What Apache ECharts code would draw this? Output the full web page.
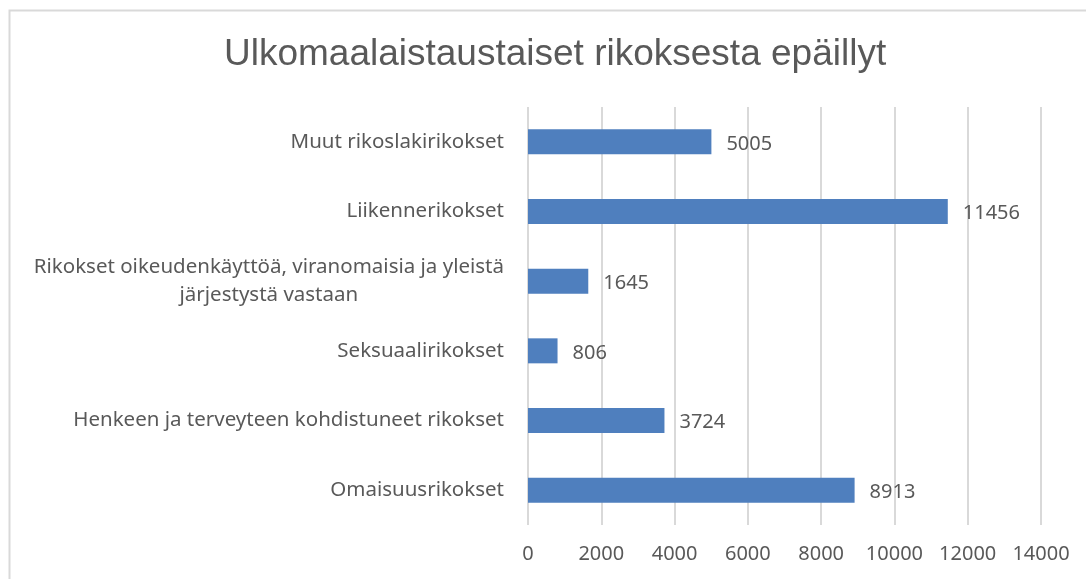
<!DOCTYPE html>
<html>
<head>
  <meta charset="UTF-8">
  <title>Ulkomaalaistaustaiset rikoksesta epäillyt</title>
  <script src="https://cdn.jsdelivr.net/npm/echarts@6/dist/echarts.min.js"></script>
  <style>
    html, body { margin: 0; padding: 0; background: #fff; }
    #chart { width: 1086px; height: 579px; }
  </style>
</head>
<body>
<div id="chart"></div>
<script>
  // data, bottom category first (ECharts category axis runs upwards)
  const categories = [
    'Omaisuusrikokset',
    'Henkeen ja terveyteen kohdistuneet rikokset',
    'Seksuaalirikokset',
    'Rikokset oikeudenkäyttöä, viranomaisia ja yleistä\njärjestystä vastaan',
    'Liikennerikokset',
    'Muut rikoslakirikokset'
  ];
  const values = [8913, 3724, 806, 1645, 11456, 5005];
  const xTicks = [0, 2000, 4000, 6000, 8000, 10000, 12000, 14000];

  const textColor = '#595959';
  const font = 'Noto Sans';

  const chart = echarts.init(document.getElementById('chart'), null, {renderer: 'canvas'});

  chart.setOption({
    animation: false,
    title: {
      text: 'Ulkomaalaistaustaiset rikoksesta epäillyt',
      left: 219,
      top: 31,
      textStyle: {
        color: textColor,
        fontSize: 37,
        fontWeight: 'normal',
        fontFamily: 'Liberation Sans'
      }
    },
    graphic: [{
      type: 'rect',
      shape: {x: 9.5, y: 10.5, width: 1100, height: 600},
      style: {fill: 'none', stroke: '#d9d9d9', lineWidth: 2},
      silent: true
    }],
    grid: {left: 528, right: 45, top: 107, bottom: 54},
    xAxis: {
      type: 'value',
      min: xTicks[0],
      max: xTicks[xTicks.length - 1],
      interval: 2000,
      axisLine: {show: false},
      axisTick: {show: false},
      axisLabel: {
        color: textColor, fontSize: 20, fontFamily: font, margin: 19,
        formatter: v => String(v)
      },
      splitLine: {lineStyle: {color: '#d9d9d9', width: 2}}
    },
    yAxis: {
      type: 'category',
      data: categories,
      axisLine: {show: false},
      axisTick: {show: false},
      axisLabel: {
        margin: 24,
        formatter: function (v) {
          return v.split('\n').map(s => '{c|' + s + '}').join('\n');
        },
        rich: {
          c: {
            color: textColor, fontSize: 20.5, fontFamily: font,
            align: 'center', lineHeight: 28
          }
        }
      }
    },
    series: [{
      type: 'bar',
      data: values,
      barWidth: 25,
      itemStyle: {color: '#4f7fbe'},
      label: {
        show: true,
        position: 'right',
        distance: 15,
        offset: [0, 2],
        color: textColor,
        fontSize: 20,
        fontFamily: font
      }
    }]
  });
</script>
</body>
</html>
